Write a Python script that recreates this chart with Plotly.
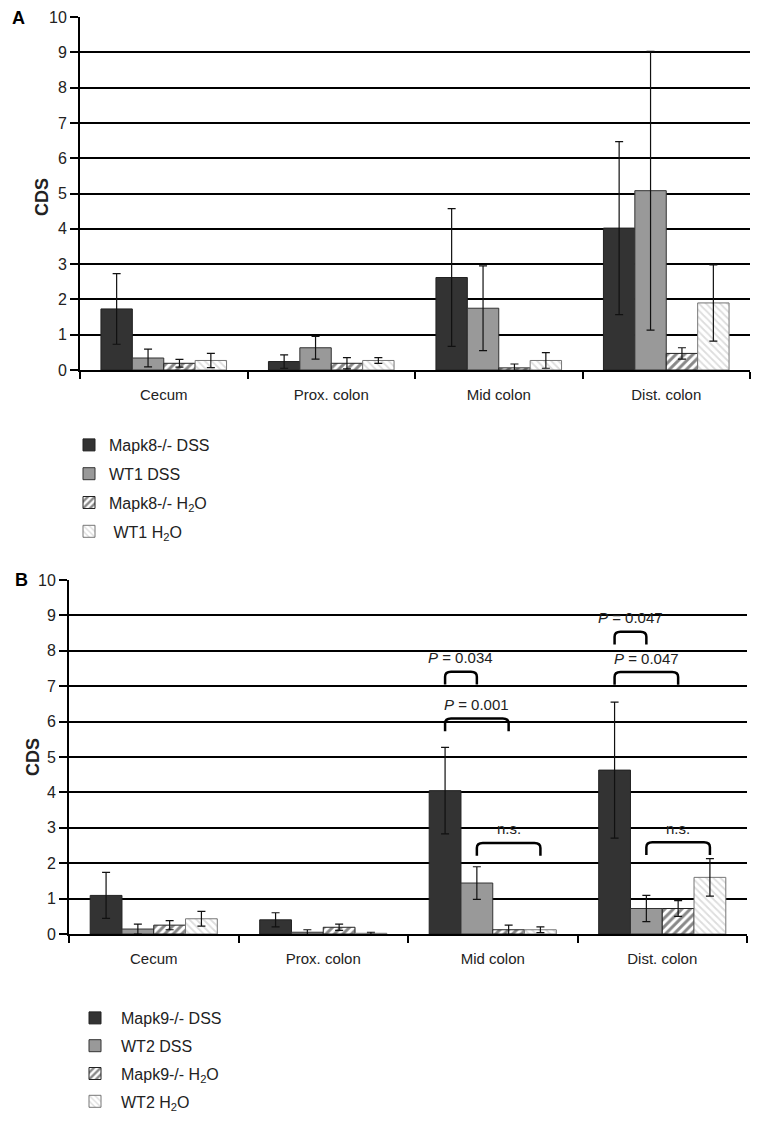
import plotly.graph_objects as go

categories = ["Cecum", "Prox. colon", "Mid colon", "Dist. colon"]

# Panel A
a_names = ["Mapk8-/- DSS", "WT1 DSS", "Mapk8-/- H<sub>2</sub>O", " WT1 H<sub>2</sub>O"]
a_vals = [
    [1.73, 0.24, 2.62, 4.02],
    [0.34, 0.63, 1.75, 5.08],
    [0.19, 0.19, 0.06, 0.47],
    [0.27, 0.27, 0.27, 1.90],
]
a_err = [
    [1.00, 0.19, 1.95, 2.45],
    [0.25, 0.32, 1.20, 3.95],
    [0.11, 0.16, 0.11, 0.16],
    [0.20, 0.08, 0.22, 1.08],
]

# Panel B
b_names = ["Mapk9-/- DSS", "WT2 DSS", "Mapk9-/- H<sub>2</sub>O", "WT2 H<sub>2</sub>O"]
b_vals = [
    [1.09, 0.40, 4.05, 4.63],
    [0.14, 0.05, 1.44, 0.72],
    [0.25, 0.19, 0.12, 0.72],
    [0.43, 0.02, 0.12, 1.60],
]
b_err = [
    [0.65, 0.20, 1.22, 1.92],
    [0.14, 0.07, 0.46, 0.37],
    [0.13, 0.09, 0.13, 0.22],
    [0.21, 0.03, 0.08, 0.53],
]

# Significance brackets for panel B: (category index, from bar, to bar, top y, label)
brackets = [
    (2, 0, 2, 6.09, "<i>P</i> = 0.001"),
    (2, 0, 1, 7.41, "<i>P</i> = 0.034"),
    (2, 1, 3, 2.57, "n.s."),
    (3, 0, 1, 8.54, "<i>P</i> = 0.047"),
    (3, 0, 2, 7.40, "<i>P</i> = 0.047"),
    (3, 1, 3, 2.59, "n.s."),
]

# page has an 8px body margin: figure is sized to fit the window exactly
OFF = 8
W, H = 762 - 2 * OFF, 1124 - 2 * OFF
BARGAP = 0.25
FONT = "Liberation Sans, Arial, sans-serif"

styles = [
    dict(color="#333333", line=dict(color="#222222", width=1)),
    dict(color="#999999", line=dict(color="#333333", width=1)),
    dict(color="white", line=dict(color="#222222", width=1),
         pattern=dict(shape="/", fgcolor="#111111", bgcolor="white", size=6, solidity=0.5)),
    dict(color="white", line=dict(color="#777777", width=1),
         pattern=dict(shape="\\", fgcolor="#bbbbbb", bgcolor="white", size=5, solidity=0.35)),
]

fig = go.Figure()

for i in range(4):
    fig.add_trace(go.Bar(
        x=categories, y=a_vals[i], name=a_names[i], marker=styles[i],
        error_y=dict(type="data", array=a_err[i], color="#111111", thickness=1.2, width=4),
        xaxis="x", yaxis="y", legend="legend", legendgroup="a%d" % i,
    ))
for i in range(4):
    fig.add_trace(go.Bar(
        x=categories, y=b_vals[i], name=b_names[i], marker=styles[i],
        error_y=dict(type="data", array=b_err[i], color="#111111", thickness=1.2, width=4),
        xaxis="x2", yaxis="y2", legend="legend2", legendgroup="b%d" % i,
    ))

def px_x(p):
    return (p - OFF) / W

def px_y(p):
    return 1 - (p - OFF) / H

yaxis_common = dict(
    range=[0, 10], dtick=1, showgrid=True, gridcolor="black", gridwidth=2,
    showline=True, linecolor="black", linewidth=2, ticks="outside", ticklen=8,
    tickwidth=2, tickcolor="black", zeroline=False, automargin=False,
    tickfont=dict(family=FONT, size=16, color="#222"),
)
xaxis_common = dict(
    type="category", showline=True, linecolor="black", linewidth=2, ticks="outside",
    ticklen=7, tickwidth=2, tickcolor="black", tickson="boundaries", showgrid=False,
    automargin=False,
    tickfont=dict(family=FONT, size=15, color="#222"),
    ticklabelstandoff=10,
)

fig.update_layout(
    width=W, height=H, margin=dict(l=0, r=0, t=0, b=0, autoexpand=False),
    paper_bgcolor="white", plot_bgcolor="white",
    barmode="group", bargap=BARGAP, bargroupgap=0,
    font=dict(family=FONT, color="#222"),
    xaxis=dict(domain=[px_x(80), px_x(750)], anchor="y", **xaxis_common),
    yaxis=dict(domain=[px_y(370), px_y(17)], anchor="x", **yaxis_common),
    xaxis2=dict(domain=[px_x(69), px_x(747)], anchor="y2", **xaxis_common),
    yaxis2=dict(domain=[px_y(934), px_y(580)], anchor="x2", **yaxis_common),
    legend=dict(x=px_x(69), y=px_y(428), xanchor="left", yanchor="top",
                traceorder="grouped", tracegroupgap=5,
                font=dict(family=FONT, size=16, color="#222"),
                bgcolor="rgba(0,0,0,0)"),
    legend2=dict(x=px_x(69), y=px_y(1001), xanchor="left", yanchor="top",
                 traceorder="grouped", tracegroupgap=4, itemwidth=42,
                 font=dict(family=FONT, size=16, color="#222"),
                 bgcolor="rgba(0,0,0,0)"),
    showlegend=True,
)

annotations = [
    dict(text="<b>A</b>", x=px_x(18), y=px_y(18), xref="paper", yref="paper",
         showarrow=False, font=dict(family=FONT, size=18, color="black"), xanchor="center", yanchor="middle"),
    dict(text="<b>B</b>", x=px_x(21), y=px_y(580), xref="paper", yref="paper",
         showarrow=False, font=dict(family=FONT, size=18, color="black"), xanchor="center", yanchor="middle"),
    dict(text="<b>CDS</b>", x=px_x(42), y=px_y(197), xref="paper", yref="paper", textangle=-90,
         showarrow=False, font=dict(family=FONT, size=18, color="#222"), xanchor="center", yanchor="middle"),
    dict(text="<b>CDS</b>", x=px_x(33), y=px_y(757), xref="paper", yref="paper", textangle=-90,
         showarrow=False, font=dict(family=FONT, size=18, color="#222"), xanchor="center", yanchor="middle"),
]

bw = (1 - BARGAP) / 4
shapes = []
for cat, b0, b1, ytop, label in brackets:
    x0 = cat + (b0 - 1.5) * bw
    x1 = cat + (b1 - 1.5) * bw
    ybot = ytop - 0.36
    ry = 0.14
    rx = 0.035
    path = (f"M {x0},{ybot} L {x0},{ytop - ry} Q {x0},{ytop} {x0 + rx},{ytop} "
            f"L {x1 - rx},{ytop} Q {x1},{ytop} {x1},{ytop - ry} L {x1},{ybot}")
    shapes.append(dict(type="path", path=path, xref="x2", yref="y2",
                       line=dict(color="black", width=2.5)))
    annotations.append(dict(text=label, x=(x0 + x1) / 2, y=ytop + 0.1, xref="x2", yref="y2",
                            showarrow=False, xanchor="center", yanchor="bottom",
                            font=dict(family=FONT, size=15, color="#222")))

fig.update_layout(annotations=annotations, shapes=shapes)

fig.write_html("out.html")
